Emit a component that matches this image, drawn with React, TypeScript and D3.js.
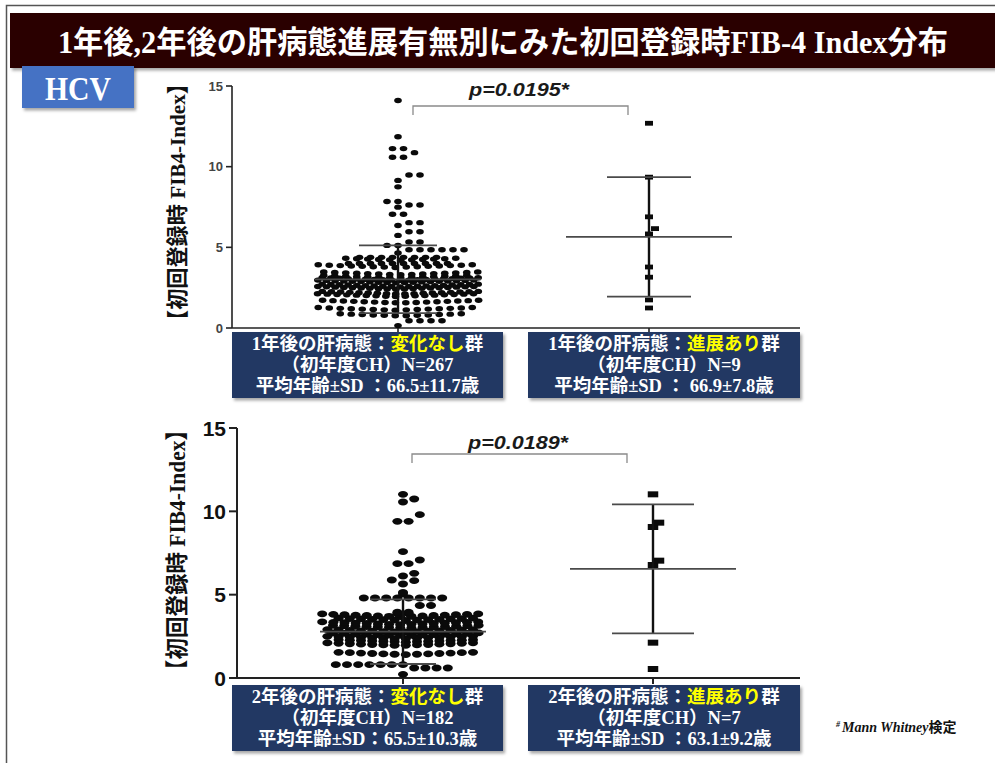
import React from 'react';
import * as d3 from 'd3';

const W = 995;
const H = 763;

const GROUPS = ['変化なし群', '進展あり群'];
const Y_TICKS = [0, 5, 10, 15];

// ---- 1年後 panel ----
const y1NoChangeValues = [14.1, 11.85, 11.12, 10.87, 10.58, 9.48, 9.15, 8.75, 7.84, 7.62, 7.49, 7.05, 6.53, 6.35, 5.97, 5.74, 5.33, 5.12,
  4.85, 4.65, 4.38, 4.2, 4.0, 3.75, 3.3, 3.1, 2.95, 2.8, 2.55, 2.4, 2.1, 1.95, 1.55, 1.1, 0.75, 0.45, 0.15];
const y1NoChangeCounts = [1, 1, 2, 1, 2, 2, 1, 1, 2, 2, 1, 2, 2, 1, 2, 1, 2, 2,
  6, 1, 8, 11, 10, 15, 15, 14, 19, 19, 19, 19, 18, 17, 16, 15, 12, 4, 1];
const y1ProgValues = [12.69, 9.35, 6.89, 6.16, 5.83, 3.78, 3.15, 1.74, 1.24];
const y1Means = [3.02, 5.65];
const y1SDs = [2.1, 3.7];

// ---- 2年後 panel ----
const y2NoChangeValues = [11.02, 10.74, 10.56, 9.8, 9.4, 7.58, 7.08, 6.86, 6.28, 6.12, 5.88, 5.84, 5.64, 5.14, 5.04,
  4.8, 4.35, 3.95, 3.85, 3.68, 3.45, 3.2, 3.0, 2.75, 2.55, 2.35, 2.15, 1.95, 1.4, 0.8, 0.6, 0.22];
const y2NoChangeCounts = [1, 1, 1, 1, 2, 1, 1, 2, 1, 1, 1, 1, 1, 1, 1,
  8, 2, 2, 2, 15, 13, 15, 14, 14, 14, 14, 13, 14, 13, 7, 4, 1];
const y2ProgValues = [11.02, 9.32, 9.06, 7.04, 6.78, 2.12, 0.54];
const y2Means = [2.78, 6.55];
const y2SDs = [1.94, 3.87];

const P_LABELS = ['p=0.0195*', 'p=0.0189*'];

const BOX_PRE = ['1年後の肝病態：', '1年後の肝病態：', '2年後の肝病態：', '2年後の肝病態：'];
const BOX_HL = ['変化なし', '進展あり', '変化なし', '進展あり'];
const BOX_POST = ['群', '群', '群', '群'];
const BOX_LINE2 = ['（初年度CH）N=267', '（初年度CH）N=9', '（初年度CH）N=182', '（初年度CH）N=7'];
const BOX_LINE3 = ['平均年齢±SD ：66.5±11.7歳', '平均年齢±SD ： 66.9±7.8歳', '平均年齢±SD：65.5±10.3歳', '平均年齢±SD ：63.1±9.2歳'];

const TITLE = '1年後,2年後の肝病態進展有無別にみた初回登録時FIB-4 Index分布';
const Y_LABEL = '【初回登録時 FIB4-Index】';

const MIX = "'Liberation Serif', 'Noto Sans CJK JP', serif";
const SANS = "'Liberation Sans', Arial, sans-serif";

type Pt = { dx: number; y: number };

function swarm(values: number[], counts: number[], y: (v: number) => number,
  o: { step: number; halfW: number; colX: number; colY: number; dense: number; tilt: number }): Pt[] {
  const order = d3.range(values.length).sort((a, b) => values[a] - values[b]);
  const placed: Pt[] = [];
  let toggle = 0;
  for (const i of order) {
    const n = counts[i];
    const yy = y(values[i]);
    const step = n > 1 ? Math.min(o.step, (2 * o.halfW) / (n - 1)) : o.step;
    const base = d3.range(n).map((k) => (k - (n - 1) / 2) * step);
    if (n >= o.dense) {
      const sh = (toggle % 2 === 0 ? 1 : -1) * step / 4;
      toggle++;
      base.forEach((dx) => placed.push({ dx: dx + sh, y: yy - Math.abs(dx) * o.tilt }));
      continue;
    }
    const shifts = [0];
    for (let k = 1; k <= 8; k++) shifts.push((k * o.step) / 2, (-k * o.step) / 2);
    let chosen = 0;
    for (const s of shifts) {
      const ok = base.every((b) => {
        const x = b + s;
        if (Math.abs(x) > o.halfW) return false;
        return placed.every((p) => Math.abs(p.dx - x) >= o.colX || Math.abs(p.y - yy) >= o.colY);
      });
      if (ok) { chosen = s; break; }
    }
    base.forEach((dx) => placed.push({ dx: dx + chosen, y: yy }));
  }
  return placed;
}

type PanelProps = {
  idx: number;
  yTop: number; yBottom: number; axisX: number; axisEnd: number;
  centers: [number, number];
  noVals: number[]; noCounts: number[]; progVals: number[];
  means: number[]; sds: number[];
  dot: { rx: number; ry: number; step: number };
  sq: { w: number; h: number };
  tickFont: number; tickColor: string; tickLen: number; axisW: number;
  whiskerHalf: [number, number];
  bracket: { y: number; x1: number; x2: number; drop: number };
  pText: { x: number; y: number };
  label: { x: number; y: number; size: number; len: number };
  boxY: number;
};

function Panel(p: PanelProps) {
  const y = d3.scaleLinear().domain([0, 15]).range([p.yBottom, p.yTop]);
  const x = d3.scalePoint<string>().domain(GROUPS).range(p.centers);
  const g1 = swarm(p.noVals, p.noCounts, y, {
    step: p.dot.step, halfW: 78, colX: p.dot.rx * 2, colY: p.dot.ry * 2, dense: 11, tilt: 0.035,
  });
  const g2 = swarm(p.progVals, p.progVals.map(() => 1), y, {
    step: 12, halfW: 30, colX: 5, colY: 7, dense: 99, tilt: 0,
  });
  const boxX = [232, 528];
  const boxW = [271, 272];
  return (
    <g>
      <text
        transform={`translate(${p.label.x},${p.label.y}) rotate(-90)`}
        textAnchor="middle" dominantBaseline="central"
        fontFamily={MIX} fontWeight="bold" fontSize={p.label.size} fill="#111"
        textLength={p.label.len} lengthAdjust="spacingAndGlyphs"
      >{Y_LABEL}</text>
      <line x1={p.axisX} x2={p.axisX} y1={y(0)} y2={y(15)} stroke="#222" strokeWidth={p.axisW} />
      {Y_TICKS.map((t) => (
        <g key={t}>
          <line x1={p.axisX - p.tickLen} x2={p.axisX} y1={y(t)} y2={y(t)} stroke="#222" strokeWidth={p.axisW} />
          <text x={p.axisX - p.tickLen - 3} y={y(t)} textAnchor="end" dominantBaseline="central"
            fontFamily={SANS} fontWeight="bold" fontSize={p.tickFont} fill={p.tickColor}>{t}</text>
        </g>
      ))}
      <line x1={p.axisX} x2={p.axisEnd} y1={y(0)} y2={y(0)} stroke="#222" strokeWidth={p.axisW} />
      {GROUPS.map((g) => (
        <line key={g} x1={x(g)} x2={x(g)} y1={y(0)} y2={y(0) + 6} stroke="#222" strokeWidth={p.axisW} />
      ))}
      {g1.map((d, i) => (
        <ellipse key={i} cx={(x(GROUPS[0]) as number) + d.dx} cy={d.y} rx={p.dot.rx} ry={p.dot.ry} fill="#0a0a0a" />
      ))}
      {g2.map((d, i) => (
        <rect key={i} x={(x(GROUPS[1]) as number) + d.dx - p.sq.w / 2} y={d.y - p.sq.h / 2}
          width={p.sq.w} height={p.sq.h} fill="#0a0a0a" />
      ))}
      {GROUPS.map((g, gi) => {
        const cx = x(g) as number;
        const m = p.means[gi];
        const s = p.sds[gi];
        const wh = p.whiskerHalf[gi];
        return (
          <g key={g}>
            <line x1={cx} x2={cx} y1={y(m + s)} y2={y(m - s)} stroke="#111" strokeWidth={2.4} />
            <line x1={cx - 83} x2={cx + 83} y1={y(m)} y2={y(m)} stroke="#4a4a4a" strokeWidth={1.8} />
            <line x1={cx - wh} x2={cx + wh} y1={y(m + s)} y2={y(m + s)} stroke="#4a4a4a" strokeWidth={1.8} />
            <line x1={cx - wh} x2={cx + wh} y1={y(m - s)} y2={y(m - s)} stroke="#4a4a4a" strokeWidth={1.8} />
          </g>
        );
      })}
      <path d={`M${p.bracket.x1},${p.bracket.y + p.bracket.drop}V${p.bracket.y}H${p.bracket.x2}V${p.bracket.y + p.bracket.drop}`}
        fill="none" stroke="#8a8a8a" strokeWidth={1.3} />
      <text x={p.pText.x} y={p.pText.y} textAnchor="middle" fontFamily={SANS} fontWeight="bold" fontStyle="italic"
        fontSize={19} fill="#1a1a1a" textLength={100} lengthAdjust="spacingAndGlyphs">{P_LABELS[p.idx]}</text>
      {[0, 1].map((bi) => {
        const k = p.idx * 2 + bi;
        const cx = boxX[bi] + boxW[bi] / 2;
        return (
          <g key={bi}>
            <rect x={boxX[bi]} y={p.boxY} width={boxW[bi]} height={66} fill="#203864" filter="url(#shadow)" />
            <text x={cx} y={p.boxY + 18} textAnchor="middle" fontFamily={MIX} fontWeight="bold" fontSize={18.5} fill="#fff">
              {BOX_PRE[k]}<tspan fill="#ffff00">{BOX_HL[k]}</tspan>{BOX_POST[k]}
            </text>
            <text x={cx} y={p.boxY + 39} textAnchor="middle" fontFamily={MIX} fontWeight="bold" fontSize={18.5} fill="#fff">
              {BOX_LINE2[k]}
            </text>
            <text x={cx} y={p.boxY + 60} textAnchor="middle" fontFamily={MIX} fontWeight="bold" fontSize={18.5} fill="#fff">
              {BOX_LINE3[k]}
            </text>
          </g>
        );
      })}
    </g>
  );
}

export default function App() {
  return (
    <svg width={W} height={H} style={{ position: 'absolute', left: 0, top: 0, background: '#fff' }}>
      <defs>
        <filter id="shadow" x="-10%" y="-10%" width="130%" height="140%">
          <feDropShadow dx="2" dy="2.5" stdDeviation="1.5" floodColor="#000" floodOpacity="0.35" />
        </filter>
      </defs>
      <rect x={0} y={0} width={W} height={H} fill="#fff" />
      <rect x={6.5} y={5.5} width={1100} height={1000} fill="none" stroke="#555" strokeWidth={1.5} />
      <rect x={10} y={13} width={990} height={55} fill="#2c0202" filter="url(#shadow)" />
      <text x={503} y={53} textAnchor="middle" fontFamily={MIX} fontWeight="bold" fontSize={31} fill="#fff"
        textLength={890} lengthAdjust="spacingAndGlyphs">{TITLE}</text>
      <rect x={22} y={66} width={112} height={42} fill="#4472c4" filter="url(#shadow)" />
      <text x={78} y={100} textAnchor="middle" fontFamily={MIX} fontWeight="bold" fontSize={34} fill="#fff"
        textLength={66} lengthAdjust="spacingAndGlyphs">HCV</text>

      <Panel
        idx={0} yTop={86} yBottom={328} axisX={232} axisEnd={800} centers={[398, 649]}
        noVals={y1NoChangeValues} noCounts={y1NoChangeCounts} progVals={y1ProgValues}
        means={y1Means} sds={y1SDs}
        dot={{ rx: 3.8, ry: 2.7, step: 11 }} sq={{ w: 8, h: 4.8 }}
        tickFont={13} tickColor="#444" tickLen={6} axisW={1.6}
        whiskerHalf={[39, 42]}
        bracket={{ y: 106, x1: 413, x2: 628, drop: 9 }}
        pText={{ x: 519, y: 96 }}
        label={{ x: 177, y: 202, size: 22, len: 258 }}
        boxY={332}
      />
      <Panel
        idx={1} yTop={428} yBottom={678} axisX={237} axisEnd={800} centers={[403, 653]}
        noVals={y2NoChangeValues} noCounts={y2NoChangeCounts} progVals={y2ProgValues}
        means={y2Means} sds={y2SDs}
        dot={{ rx: 5, ry: 3.4, step: 11.2 }} sq={{ w: 10.5, h: 6 }}
        tickFont={21} tickColor="#111" tickLen={8} axisW={2}
        whiskerHalf={[33, 41]}
        bracket={{ y: 454, x1: 412, x2: 627, drop: 9 }}
        pText={{ x: 518, y: 449 }}
        label={{ x: 177, y: 550, size: 23, len: 262 }}
        boxY={685}
      />
      <text x={836} y={732} fontFamily={MIX} fontWeight="bold" fontStyle="italic" fontSize={14} fill="#111">
        <tspan fontSize={8} dy={-5}>#</tspan>
        <tspan dy={5} dx={2}>Mann Whitney</tspan>
        <tspan fontStyle="normal" fontFamily="'Noto Sans CJK JP', sans-serif">検定</tspan>
      </text>
    </svg>
  );
}
